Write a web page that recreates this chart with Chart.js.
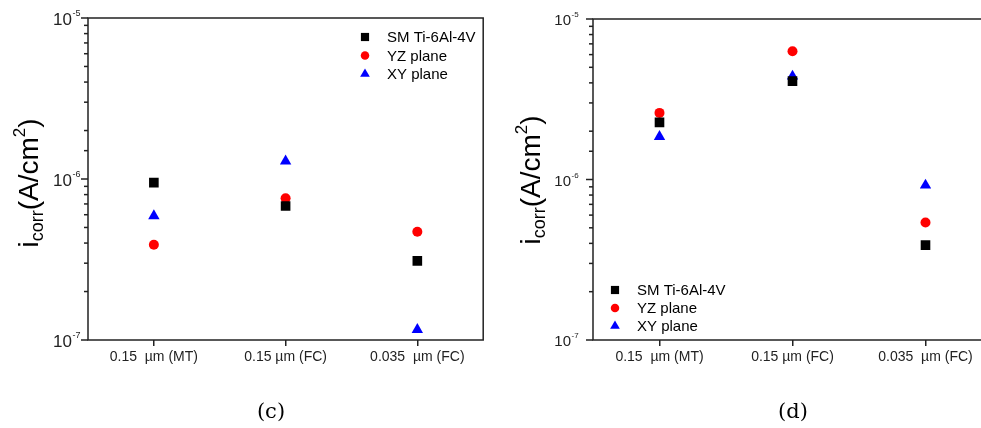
<!DOCTYPE html>
<html>
<head>
<meta charset="utf-8">
<script src="https://cdn.jsdelivr.net/npm/chart.js@4.4.0/dist/chart.umd.min.js"></script>
<style>
    html, body { margin: 0; padding: 0; background: #fff; overflow: hidden; }
    #wrap { position: relative; width: 981px; height: 428px; overflow: hidden; }
    #chartC { position: absolute; left: 0; top: 0; }
    #chartD { position: absolute; left: 490px; top: 0; }
</style>
</head>
<body>
<div id="wrap">
    <canvas id="chartC" width="490" height="428"></canvas>
    <canvas id="chartD" width="510" height="428"></canvas>
</div>
<script>
// ================================
// i_corr comparison, panels (c) and (d)
// ================================

const categories = ['0.15  µm (MT)', '0.15 µm (FC)', '0.035  µm (FC)'];
const seriesNames = ['SM Ti-6Al-4V', 'YZ plane', 'XY plane'];

// panel (c)
const smC = [9.5e-7, 6.8e-7, 3.1e-7];
const yzC = [3.9e-7, 7.6e-7, 4.7e-7];
const xyC = [5.9e-7, 1.29e-6, 1.16e-7];

// panel (d)
const smD = [2.27e-6, 4.1e-6, 3.9e-7];
const yzD = [2.6e-6, 6.3e-6, 5.4e-7];
const xyD = [1.85e-6, 4.4e-6, 9.2e-7];

const yMin = 1e-7;
const yMax = 1e-5;

const FONT = "'Liberation Sans', Arial, sans-serif";
const INK = '#222';

const markerStyles = [
    { pointStyle: 'rect', radius: 6.8, color: '#000000' },
    { pointStyle: 'circle', radius: 5, color: '#ff0000' },
    { pointStyle: 'triangle', radius: 6.6, color: '#0000ff' }
];

function drawMarker(ctx, style, x, y, r, color) {
    ctx.fillStyle = color;
    ctx.beginPath();
    if (style === 'rect') {
        const s = r * Math.SQRT1_2;
        ctx.rect(x - s, y - s, 2 * s, 2 * s);
    } else if (style === 'circle') {
        ctx.arc(x, y, r, 0, Math.PI * 2);
    } else {
        ctx.moveTo(x, y - r);
        ctx.lineTo(x + r * Math.sin(Math.PI * 2 / 3), y + r / 2);
        ctx.lineTo(x - r * Math.sin(Math.PI * 2 / 3), y + r / 2);
        ctx.closePath();
    }
    ctx.fill();
}

// rotated axis title: i_corr(A/cm^2)
function drawYTitle(ctx, bx, cy) {
    const parts = [
        { t: 'i', size: 28, dy: 0 },
        { t: 'corr', size: 18, dy: 5 },
        { t: '(A/cm', size: 28, dy: 0 },
        { t: '2', size: 17, dy: -13 },
        { t: ')', size: 28, dy: 0 }
    ];
    ctx.save();
    ctx.translate(bx, cy);
    ctx.rotate(-Math.PI / 2);
    ctx.fillStyle = '#000';
    ctx.textBaseline = 'alphabetic';
    ctx.textAlign = 'left';
    let total = 0;
    parts.forEach(p => {
        ctx.font = p.size + 'px ' + FONT;
        p.w = ctx.measureText(p.t).width;
        total += p.w;
    });
    let x = -total / 2;
    parts.forEach(p => {
        ctx.font = p.size + 'px ' + FONT;
        ctx.fillText(p.t, x, p.dy);
        x += p.w;
    });
    ctx.restore();
}

function makeDecor(cfg) {
    return {
        id: 'decor',
        afterDraw(chart) {
            const ctx = chart.ctx;
            const a = chart.chartArea;
            const yScale = chart.scales.y;
            ctx.save();

            // frame
            ctx.strokeStyle = INK;
            ctx.lineWidth = 1.5;
            ctx.strokeRect(a.left, a.top, a.right - a.left, a.bottom - a.top);

            // y ticks + labels 10^n
            yScale.ticks.forEach(t => {
                const py = yScale.getPixelForValue(t.value);
                const lg = Math.log10(t.value);
                const major = Math.abs(lg - Math.round(lg)) < 1e-6;
                ctx.beginPath();
                ctx.moveTo(a.left, py);
                ctx.lineTo(a.left - (major ? 7 : 4), py);
                ctx.stroke();
                if (major) {
                    const ex = a.left - cfg.labelGap;
                    ctx.fillStyle = INK;
                    ctx.textBaseline = 'alphabetic';
                    ctx.font = cfg.tickSize + 'px ' + FONT;
                    ctx.textAlign = 'right';
                    ctx.fillText('10', ex, py + cfg.tickSize * 0.42);
                    ctx.font = Math.round(cfg.tickSize * 0.55) + 'px ' + FONT;
                    ctx.textAlign = 'left';
                    ctx.fillText(String(Math.round(lg)), ex + 0.5, py - 2);
                }
            });

            // legend
            ctx.font = '15px ' + FONT;
            ctx.textAlign = 'left';
            ctx.textBaseline = 'middle';
            seriesNames.forEach((name, i) => {
                const m = markerStyles[i];
                const ly = cfg.legendY + i * cfg.legendStep;
                drawMarker(ctx, m.pointStyle, cfg.legendX, ly, m.radius * 0.85, m.color);
                ctx.fillStyle = '#000';
                ctx.fillText(name, cfg.legendX + 22, ly + 1);
            });

            drawYTitle(ctx, cfg.titleX, cfg.titleY);

            // panel caption
            ctx.fillStyle = '#000';
            ctx.font = "21px 'DejaVu Serif', serif";
            ctx.textAlign = 'center';
            ctx.textBaseline = 'middle';
            ctx.fillText(cfg.caption, cfg.captionX, 413);

            ctx.restore();
        }
    };
}

function buildChart(canvasId, values, padRight, padTop, decor) {
    const datasets = values.map((vals, i) => ({
        label: seriesNames[i],
        data: vals,
        showLine: false,
        pointStyle: markerStyles[i].pointStyle,
        pointRadius: markerStyles[i].radius,
        pointHoverRadius: markerStyles[i].radius,
        pointBackgroundColor: markerStyles[i].color,
        pointBorderWidth: 0,
        borderColor: markerStyles[i].color
    }));

    return new Chart(document.getElementById(canvasId).getContext('2d'), {
        type: 'line',
        data: { labels: categories, datasets: datasets },
        options: {
            responsive: false,
            animation: false,
            layout: { padding: { top: padTop, right: padRight, left: 0, bottom: 0 } },
            plugins: { legend: { display: false }, tooltip: { enabled: false } },
            scales: {
                x: {
                    type: 'category',
                    offset: true,
                    grid: { display: true, drawOnChartArea: false, drawTicks: true, tickLength: 6, color: INK, lineWidth: 1.5 },
                    border: { display: false },
                    ticks: { font: { size: 14, family: FONT }, color: INK, padding: 3, maxRotation: 0, autoSkip: false },
                    afterFit: s => { s.height = 88; }
                },
                y: {
                    type: 'logarithmic',
                    min: yMin,
                    max: yMax,
                    grid: { display: false },
                    border: { display: false },
                    ticks: { display: false },
                    afterFit: s => { s.width = decor.axisWidth; }
                }
            }
        },
        plugins: [makeDecor(decor)]
    });
}

buildChart('chartC', [smC, yzC, xyC], 3, 18, {
    axisWidth: 88, tickSize: 17, labelGap: 16,
    legendX: 365, legendY: 37, legendStep: 18.5,
    titleX: 38, titleY: 183, caption: '(c)', captionX: 271
});

buildChart('chartD', [smD, yzD, xyD], 8, 19, {
    axisWidth: 103, tickSize: 15, labelGap: 22,
    legendX: 125, legendY: 290, legendStep: 18,
    titleX: 50, titleY: 180, caption: '(d)', captionX: 303
});
</script>
</body>
</html>
